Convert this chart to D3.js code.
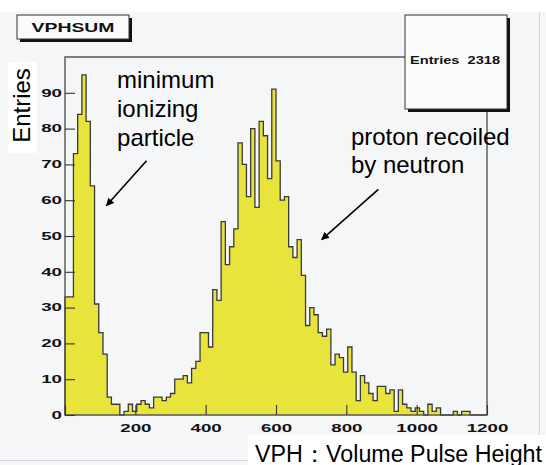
<!DOCTYPE html>
<html>
<head>
<meta charset="utf-8">
<script src="https://cdn.jsdelivr.net/npm/d3@7"></script>
<style>
  html, body { margin: 0; padding: 0; background: #fff; }
  svg { display: block; }
  text { font-family: "Liberation Sans", Arial, sans-serif; }
</style>
</head>
<body>
<svg id="chart" width="546" height="465"></svg>
<script>
// VPHSUM histogram, 100 bins between 0 and 1200
const binRange = [0, 1200]
const counts = [
  33, 33, 73, 84, 95, 82, 64, 31, 23, 17,
  5, 3, 3, 0, 1, 3, 1, 3, 4, 3,
  2, 5, 5, 4, 5, 6, 10, 10, 11, 9,
  13, 15, 23, 23, 19, 35, 32, 54, 42, 47,
  52, 76, 70, 61, 80, 58, 82, 78, 66, 91,
  71, 60, 61, 47, 44, 49, 39, 25, 30, 28,
  23, 22, 24, 14, 17, 16, 12, 19, 12, 4,
  11, 9, 6, 4, 8, 8, 6, 7, 1, 7,
  3, 2, 1, 2, 1, 0, 3, 1, 2, 0,
  0, 0, 1, 0, 1, 1, 0, 0, 0, 0
]
const xTickLabels = [200, 400, 600, 800, 1000, 1200]
const yTickLabels = [0, 10, 20, 30, 40, 50, 60, 70, 80, 90]
const histTitle = 'VPHSUM'
const entries = 2318
const xTitle = 'VPH：Volume Pulse Height'
const yTitle = 'Entries'
// annotation text, anchored in data units (x value, y count)
const noteMip = ['minimum', 'ionizing', 'particle']
const noteProton = ['proton recoiled', 'by neutron']
// arrows [from x, from y, to x, to y] in data units
const arrows = [
  [232, 71, 118, 58.5],
  [891, 63, 730, 49]
]

const svg = d3.select('#chart')
const frame = { left: 65, right: 487, top: 57, bottom: 415 }

const x = d3.scaleLinear().domain(binRange).range([frame.left, frame.right])
const y = d3.scaleLinear().domain([0, 100]).range([frame.bottom, frame.top])
const binW = (binRange[1] - binRange[0]) / counts.length

// canvas
svg.append('rect').attr('x', 0).attr('y', 12).attr('width', 546).attr('height', 453).attr('fill', '#f5f6f8')
svg.append('line').attr('x1', 539.5).attr('x2', 539.5).attr('y1', 12).attr('y2', 460).attr('stroke', '#d4d5d8')
svg.append('line').attr('x1', 0).attr('x2', 546).attr('y1', 460.5).attr('y2', 460.5).attr('stroke', '#d4d5d8')

// histogram outline
const pts = [[binRange[0], 0]]
counts.forEach((c, i) => {
  pts.push([binRange[0] + i * binW, c])
  pts.push([binRange[0] + (i + 1) * binW, c])
})
pts.push([binRange[1], 0])
const line = d3.line().x(d => x(d[0])).y(d => y(d[1]))
svg.append('path')
  .attr('d', line(pts))
  .attr('fill', '#e8e43c')
  .attr('stroke', '#3a3a3a')
  .attr('stroke-width', 1.3)

// frame
svg.append('path')
  .attr('d', `M${frame.left},${frame.bottom}V${frame.top}H${frame.right}V${frame.bottom}Z`)
  .attr('fill', 'none')
  .attr('stroke', '#555')
  .attr('stroke-width', 1.4)

// axes
const gx = svg.append('g').attr('transform', `translate(0,${frame.bottom})`)
gx.call(d3.axisBottom(x).tickValues(d3.range(0, 1201, 50)).tickSize(-5).tickFormat(''))
gx.call(d3.axisBottom(x).tickValues(d3.range(0, 1201, 200)).tickSize(-10).tickFormat(''))
svg.append('g').attr('transform', `translate(0,${frame.bottom})`)
  .call(d3.axisBottom(x).tickValues(xTickLabels).tickSize(0).tickPadding(10).tickFormat(d3.format('d')))

const gy = svg.append('g').attr('transform', `translate(${frame.left},0)`)
gy.call(d3.axisLeft(y).tickValues(d3.range(0, 100, 2)).tickSize(-6).tickFormat(''))
gy.call(d3.axisLeft(y).tickValues(yTickLabels).tickSize(-10).tickPadding(3).tickFormat(d3.format('d')))

svg.selectAll('.domain').remove()
svg.selectAll('.tick line').attr('stroke', '#333').attr('stroke-width', 1.1)
svg.selectAll('.tick text')
  .attr('font-size', 10)
  .attr('font-weight', 'bold')
  .attr('font-family', '"Liberation Sans", Arial, sans-serif')
  .attr('fill', '#111')
  .attr('textLength', function () { return this.textContent.length * 10.4 })
  .attr('lengthAdjust', 'spacingAndGlyphs')

// title box with shadow
function shadowBox (x0, y0, w, h) {
  svg.append('rect').attr('x', x0 + 3).attr('y', y0 + 3).attr('width', w).attr('height', h).attr('fill', '#111')
  svg.append('rect').attr('x', x0).attr('y', y0).attr('width', w).attr('height', h)
    .attr('fill', '#fbfbfc').attr('stroke', '#333').attr('stroke-width', 1)
}
shadowBox(17, 15, 112, 24)
svg.append('text').attr('x', 73).attr('y', 31.5).attr('text-anchor', 'middle')
  .attr('font-size', 12.5).attr('font-weight', 'bold').attr('fill', '#111')
  .attr('textLength', 83).attr('lengthAdjust', 'spacingAndGlyphs')
  .text(histTitle)

shadowBox(405, 15, 102, 94)
svg.append('text').attr('x', 455).attr('y', 64).attr('text-anchor', 'middle')
  .attr('font-size', 11).attr('font-weight', 'bold').attr('fill', '#111')
  .attr('textLength', 90).attr('lengthAdjust', 'spacingAndGlyphs')
  .attr('xml:space', 'preserve')
  .text('Entries  ' + entries)

// axis titles on white patches
svg.append('rect').attr('x', 8).attr('y', 62).attr('width', 29).attr('height', 91).attr('fill', '#fff')
svg.append('text').attr('transform', 'translate(29.5,105.5) rotate(-90)')
  .attr('text-anchor', 'middle').attr('font-size', 24).attr('fill', '#000')
  .text(yTitle)

svg.append('rect').attr('x', 248).attr('y', 435).attr('width', 298).attr('height', 30).attr('fill', '#fff')
svg.append('text').attr('x', 255).attr('y', 461.5)
  .attr('font-size', 23).attr('fill', '#000')
  .attr('textLength', 287).attr('lengthAdjust', 'spacingAndGlyphs')
  .text(xTitle)

// annotations
const noteStyle = t => t.attr('font-size', 24).attr('fill', '#000')
svg.append('text').call(noteStyle)
  .selectAll('tspan').data(noteMip).join('tspan')
  .attr('x', x(148)).attr('y', (d, i) => y(91.4) + i * 29)
  .text(d => d)
svg.append('text').call(noteStyle)
  .selectAll('tspan').data(noteProton).join('tspan')
  .attr('x', x(813)).attr('y', (d, i) => y(75.4) + i * 28)
  .text(d => d)

svg.append('defs').append('marker')
  .attr('id', 'head').attr('viewBox', '0 0 10 10').attr('refX', 9).attr('refY', 5)
  .attr('markerWidth', 8).attr('markerHeight', 8).attr('markerUnits', 'userSpaceOnUse')
  .attr('orient', 'auto')
  .append('path').attr('d', 'M0,0L10,5L0,10Z').attr('fill', '#000')
svg.selectAll('line.arrow').data(arrows).join('line')
  .attr('class', 'arrow')
  .attr('x1', d => x(d[0])).attr('y1', d => y(d[1]))
  .attr('x2', d => x(d[2])).attr('y2', d => y(d[3]))
  .attr('stroke', '#000').attr('stroke-width', 1.6)
  .attr('marker-end', 'url(#head)')
</script>
</body>
</html>
